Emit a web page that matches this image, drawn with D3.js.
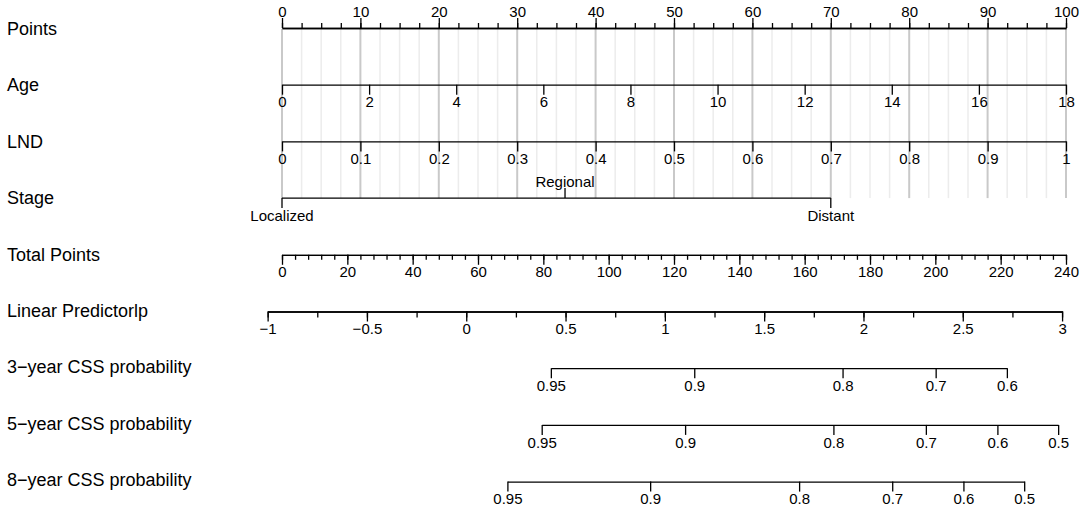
<!DOCTYPE html>
<html>
<head>
<meta charset="utf-8">
<script src="https://cdn.jsdelivr.net/npm/d3@7"></script>
<style>
  body { margin: 0; background: #fff; }
</style>
</head>
<body>
<svg id="chart" width="1084" height="511"></svg>
<script>
// row titles, top to bottom
const rowNames = ['Points', 'Age', 'LND', 'Stage', 'Total Points', 'Linear Predictorlp',
                  '3\u2212year CSS probability', '5\u2212year CSS probability', '8\u2212year CSS probability'];

// points scale
const pointTicks = d3.range(0, 101, 10);
const pointMinor = d3.range(0, 100.01, 2.5);

// Age (0..18 spans 0..100 points)
const ageTicks = [0, 2, 4, 6, 8, 10, 12, 14, 16, 18];
// LND (0..1 spans 0..100 points)
const lndTicks = [0, 0.1, 0.2, 0.3, 0.4, 0.5, 0.6, 0.7, 0.8, 0.9, 1];
const lndLabels = ['0', '0.1', '0.2', '0.3', '0.4', '0.5', '0.6', '0.7', '0.8', '0.9', '1'];

// Stage levels and their points
const stageLevels = ['Localized', 'Regional', 'Distant'];
const stagePoints = [0, 36.1, 70];

// Total points
const totalTicks = d3.range(0, 241, 20);
const totalMinor = d3.range(0, 241, 4);

// linear predictor, positioned on total points
const lpTicks = [-1, -0.5, 0, 0.5, 1, 1.5, 2, 2.5, 3];
const lpMinor = d3.range(-1, 3.01, 0.25);
const lpLabels = ['\u22121', '\u22120.5', '0', '0.5', '1', '1.5', '2', '2.5', '3'];
const lpTotalAt = [-4.4, 238.8];   // total points at lp = -1 and lp = 3

// survival probabilities (label, total points where it sits)
const p3Labels = ['0.95', '0.9', '0.8', '0.7', '0.6'];
const p3Points = [82.3, 126.2, 171.6, 200.1, 221.9];
const p5Labels = ['0.95', '0.9', '0.8', '0.7', '0.6', '0.5'];
const p5Points = [79.5, 123.4, 168.8, 197.1, 219.0, 237.6];
const p8Labels = ['0.95', '0.9', '0.8', '0.7', '0.6', '0.5'];
const p8Points = [69.0, 112.7, 158.3, 186.8, 208.6, 227.2];

const FONT = '"Liberation Sans", Arial, sans-serif';
const svg = d3.select('#chart');
const left = 282, right = 1066;
const rowY = i => 28 + 56.7 * i;

const xPts = d3.scaleLinear().domain([0, 100]).range([left, right]);
const xTot = d3.scaleLinear().domain([0, 240]).range([left, right]);

// background grid (points to stage)
svg.append('g').selectAll('line').data(pointMinor).join('line')
    .attr('x1', d => xPts(d)).attr('x2', d => xPts(d))
    .attr('y1', rowY(0) + 1).attr('y2', rowY(3))
    .attr('stroke', d => d % 10 === 0 ? '#c9c9c9' : '#ececec')
    .attr('stroke-width', d => d % 10 === 0 ? 2 : 1.5);

// row titles
svg.append('g').selectAll('text').data(rowNames).join('text')
    .attr('x', 7)
    .attr('y', (d, i) => 35 + 56.4 * i)
    .attr('font-family', FONT)
    .attr('font-size', 18)
    .text(d => d);

function styleAxis(g) {
    g.attr('font-family', FONT).attr('font-size', 15);
    g.selectAll('path, line').attr('stroke', '#000').attr('stroke-width', 1.3);
    g.selectAll('text').attr('fill', '#000');
}

// major + minor axis on one row
function drawRow(i, scale, top, ticks, labels, minor, minorSize) {
    const mk = top ? d3.axisTop : d3.axisBottom;
    if (minor) {
        svg.append('g').attr('transform', `translate(0,${rowY(i)})`)
            .call(mk(scale).tickValues(minor).tickFormat('').tickSize(minorSize).tickSizeOuter(0))
            .call(styleAxis);
    }
    svg.append('g').attr('transform', `translate(0,${rowY(i)})`)
        .call(mk(scale).tickValues(ticks).tickFormat((d, k) => labels[k])
            .tickSize(10).tickPadding(top ? 1 : 2).tickSizeOuter(0))
        .call(styleAxis);
}

drawRow(0, xPts, true, pointTicks, pointTicks.map(String), pointMinor, 5);

const xAge = d3.scaleLinear().domain([0, 18]).range([left, right]);
drawRow(1, xAge, false, ageTicks, ageTicks.map(String));

const xLnd = d3.scaleLinear().domain([0, 1]).range([left, right]);
drawRow(2, xLnd, false, lndTicks, lndLabels);

// Stage: categorical row
const sg = svg.append('g').attr('transform', `translate(0,${rowY(3)})`);
sg.append('line')
    .attr('x1', xPts(d3.min(stagePoints))).attr('x2', xPts(d3.max(stagePoints)))
    .attr('stroke', '#000').attr('stroke-width', 1.3);
sg.selectAll('line.tk').data(stageLevels).join('line').attr('class', 'tk')
    .attr('x1', (d, k) => xPts(stagePoints[k])).attr('x2', (d, k) => xPts(stagePoints[k]))
    .attr('y1', 0).attr('y2', (d, k) => k === 1 ? -10 : 10)
    .attr('stroke', '#000').attr('stroke-width', 1.3);
sg.selectAll('text').data(stageLevels).join('text')
    .attr('x', (d, k) => xPts(stagePoints[k]))
    .attr('y', (d, k) => k === 1 ? -11 : 22.7)
    .attr('text-anchor', 'middle')
    .attr('font-family', FONT).attr('font-size', 15)
    .text(d => d);

drawRow(4, xTot, false, totalTicks, totalTicks.map(String), totalMinor, 5);

const xLp = d3.scaleLinear().domain([-1, 3]).range(lpTotalAt.map(xTot));
drawRow(5, xLp, false, lpTicks, lpLabels, lpMinor, 6);

// probability rows, line only between first and last tick
[[p3Points, p3Labels], [p5Points, p5Labels], [p8Points, p8Labels]].forEach(([pts, labs], k) => {
    const ext = d3.extent(pts);
    const sc = d3.scaleLinear().domain(ext).range(ext.map(xTot));
    drawRow(6 + k, sc, false, pts, labs);
});
</script>
</body>
</html>
